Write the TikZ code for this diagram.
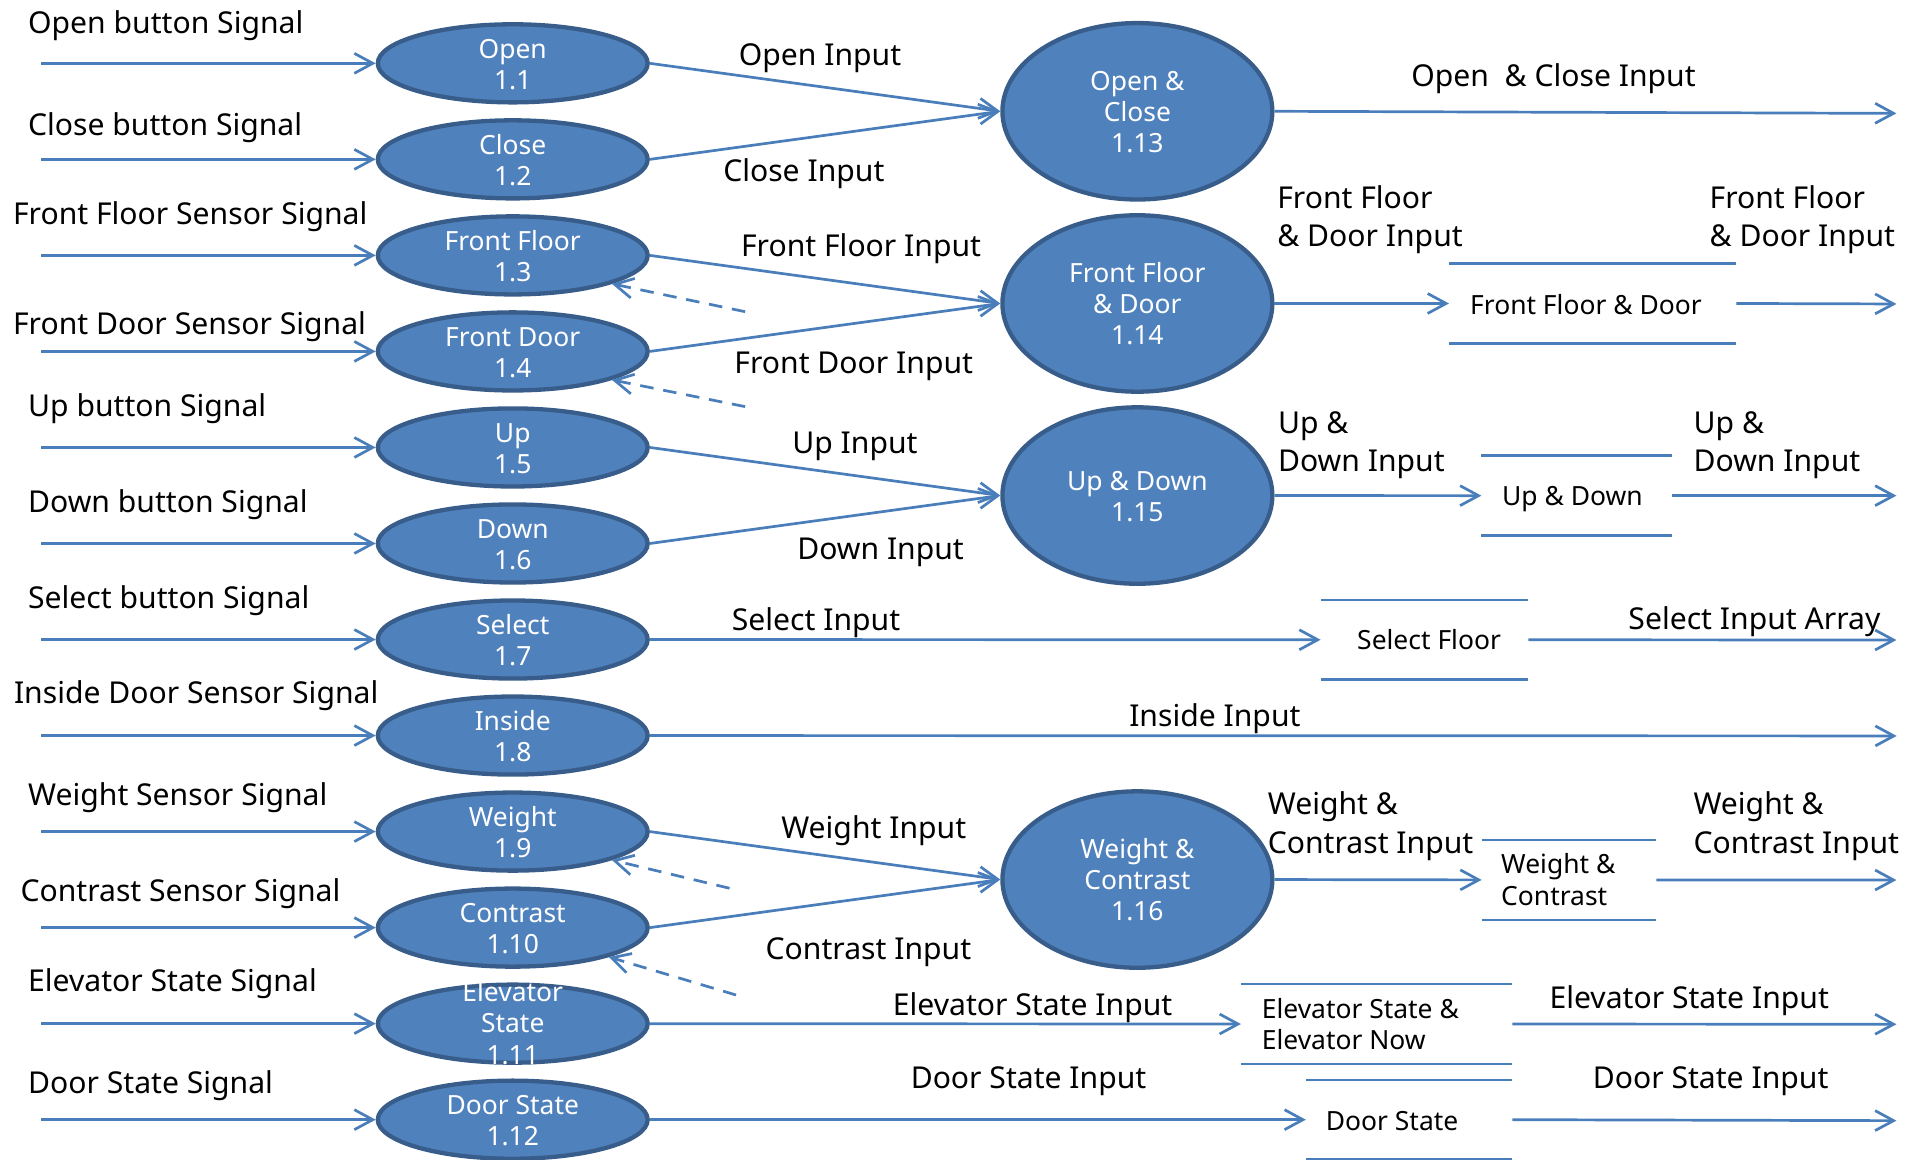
\documentclass[tikz,border=0pt]{standalone}
\usepackage{fontspec}
\setmainfont{Noto Sans}
\usetikzlibrary{arrows.meta,shapes.geometric}

\definecolor{procfill}{HTML}{4F81BD}
\definecolor{procedge}{HTML}{385D8A}
\definecolor{flowc}{HTML}{4A7EBB}

\newcommand\bigfont{\fontsize{12.25pt}{15.5pt}\selectfont}
\newcommand\smallfont{\fontsize{10.75pt}{12.75pt}\selectfont}
\newcommand\leftlines[1]{\begin{tabular}[t]{@{}l@{}}#1\end{tabular}}
\newcommand\midlines[1]{\begin{tabular}[t]{@{}c@{}}#1\end{tabular}}

\tikzset{
  proc/.style={ellipse, draw=procedge, fill=procfill, line width=1.75pt,
    minimum width=109.75pt, minimum height=31.75pt, inner sep=0pt},
  bigproc/.style={proc, minimum height=71.75pt},
  ptext/.style={text=white, font=\smallfont, anchor=base, inner sep=0pt},
  lab/.style={font=\bigfont, anchor=base west, inner sep=0pt},
  stext/.style={font=\smallfont, anchor=base west, inner sep=0pt},
  flow/.style={draw=flowc, line width=1.1pt,
    -{Straight Barb[length=7.5pt,width=8.1pt]}},
  back/.style={flow, dash pattern=on 5.5pt off 4pt},
  store/.style={rectangle, inner sep=0pt, outer sep=0pt},
  storeline/.style={draw=flowc, line width=1.1pt},
}

\begin{document}
\begin{tikzpicture}[x=0.5pt, y=-0.5pt]
\useasboundingbox (0,0) rectangle (1568,943);

% ---- input processes ----
\foreach \i/\r in {1/51.5,2/129.6,3/207.7,4/285.8,5/363.9,6/442,7/520.1,8/598.2,9/676.3,10/754.4,11/832.5,12/910.6}{
  \node[proc] (p\i) at (417,\r) {};
  \coordinate (s\i) at (33.4,\r);
  \draw[flow] (s\i) -- (p\i.west);
}

% ---- combining processes ----
\node[bigproc] (p13) at (925,90.5) {};
\node[bigproc] (p14) at (925,246.8) {};
\node[bigproc] (p15) at (925,403) {};
\node[bigproc] (p16) at (925,715.3) {};

% ---- stores ----
\node[store, minimum width=116.9pt, minimum height=32.4pt] (d14) at (1295.3,246.8) {};
\node[store, minimum width=77.65pt, minimum height=32.5pt] (d15) at (1282.4,403.1) {};
\node[store, minimum width=84.5pt, minimum height=32.25pt] (dS) at (1158.5,520.3) {};
\node[store, minimum width=71.05pt, minimum height=32.55pt] (d16) at (1276,715.6) {};
\node[store, minimum width=110.4pt, minimum height=32.5pt] (dE) at (1119.6,832.8) {};
\node[store, minimum width=84pt, minimum height=32.3pt] (dD) at (1146,910.6) {};
\foreach \d in {d14,d15,dS,d16,dE,dD}{
  \draw[storeline] (\d.north west) -- (\d.north east) (\d.south west) -- (\d.south east);
}

% ---- output ends ----
\coordinate (o13) at (1542.3,92.2);
\coordinate (o14) at (1542.3,247.2);
\coordinate (o15) at (1542.3,403.1);
\coordinate (oS) at (1542.3,520.5);
\coordinate (o8) at (1542.5,598.5);
\coordinate (o16) at (1542.3,715.7);
\coordinate (oE) at (1542.3,833);
\coordinate (oD) at (1542.3,911.4);

% ---- flows ----
\draw[flow] (p1.east) -- (p13.west);
\draw[flow] (p2.east) -- (p13.west);
\draw[flow] (p3.east) -- (p14.west);
\draw[flow] (p4.east) -- (p14.west);
\draw[flow] (p5.east) -- (p15.west);
\draw[flow] (p6.east) -- (p15.west);
\draw[flow] (p9.east) -- (p16.west);
\draw[flow] (p10.east) -- (p16.west);
\draw[flow] (p7.east) -- (dS.west);
\draw[flow] (p8.east) -- (o8);
\draw[flow] (p11.east) -- (dE.west);
\draw[flow] (p12.east) -- (dD.west);
\draw[flow] (p13.east) -- (o13);
\draw[flow] (p14.east) -- (d14.west);
\draw[flow] (p15.east) -- (d15.west);
\draw[flow] (p16.east) -- (d16.west);
\draw[flow] (d14.east) -- (o14);
\draw[flow] (d15.east) -- (o15);
\draw[flow] (dS.east) -- (oS);
\draw[flow] (d16.east) -- (o16);
\draw[flow] (dE.east) -- (oE);
\draw[flow] (dD.east) -- (oD);

% ---- dashed feedback ----
\coordinate (f3) at (606,253.5);
\coordinate (f4) at (606,330.7);
\coordinate (f9) at (593.3,722.4);
\coordinate (f10) at (598.6,809.2);
\draw[back] (f3) -- (p3.-16.5);
\draw[back] (f4) -- (p4.-16.5);
\draw[back] (f9) -- (p9.-16.5);
\draw[back] (f10) -- (p10.-17);

% ---- process texts ----
\node[ptext] (t1) at (417,47.4) {\midlines{Open\\1.1}};
\node[ptext] (t2) at (417,125.5) {\midlines{Close\\1.2}};
\node[ptext] (t3) at (417,203.6) {\midlines{Front Floor\\1.3}};
\node[ptext] (t4) at (417,281.7) {\midlines{Front Door\\1.4}};
\node[ptext] (t5) at (417,359.8) {\midlines{Up\\1.5}};
\node[ptext] (t6) at (417,437.9) {\midlines{Down\\1.6}};
\node[ptext] (t7) at (417,516) {\midlines{Select\\1.7}};
\node[ptext] (t8) at (417,594.1) {\midlines{Inside\\1.8}};
\node[ptext] (t9) at (417,672.2) {\midlines{Weight\\1.9}};
\node[ptext] (t10) at (417,750.3) {\midlines{Contrast\\1.10}};
\node[ptext] (t11) at (417,814.4) {\midlines{Elevator\\State\\1.11}};
\node[ptext] (t12) at (417,906.5) {\midlines{Door State\\1.12}};
\node[ptext] (t13) at (925,73.2) {\midlines{Open \&\\Close\\1.13}};
\node[ptext] (t14) at (925,229.5) {\midlines{Front Floor\\\& Door\\1.14}};
\node[ptext] (t15) at (925,398.5) {\midlines{Up \& Down\\1.15}};
\node[ptext] (t16) at (925,698) {\midlines{Weight \&\\Contrast\\1.16}};

% ---- store texts ----
\node[stext] (u14) at (1195.2,255.4) {Front Floor \& Door};
\node[stext] (u15) at (1221.2,411.5) {Up \& Down};
\node[stext] (uS) at (1103.4,528.1) {Select Floor};
\node[stext, font=\fontsize{10.75pt}{13.25pt}\selectfont] (u16) at (1220.5,710.3) {\leftlines{Weight \&\\Contrast}};
\node[stext] (uE) at (1025.8,828.2) {\leftlines{Elevator State \&\\Elevator Now}};
\node[stext] (uD) at (1077.9,919) {Door State};

% ---- signal labels ----
\node[lab] (l1) at (22.5,27.1) {Open button Signal};
\node[lab] (l2) at (22.5,109.8) {Close button Signal};
\node[lab] (l3) at (10.2,182.2) {Front Floor Sensor Signal};
\node[lab] (l4) at (10.2,272.4) {Front Door Sensor Signal};
\node[lab] (l5) at (22.5,338.5) {Up button Signal};
\node[lab] (l6) at (22.5,416.5) {Down button Signal};
\node[lab] (l7) at (22.5,494.5) {Select button Signal};
\node[lab] (l8) at (11,572.5) {Inside Door Sensor Signal};
\node[lab] (l9) at (22.5,654.7) {Weight Sensor Signal};
\node[lab] (l10) at (16.3,733.3) {Contrast Sensor Signal};
\node[lab] (l11) at (22.5,806.5) {Elevator State Signal};
\node[lab] (l12) at (22.5,889.2) {Door State Signal};

% ---- flow labels ----
\node[lab] (m1) at (600.5,52.9) {Open Input};
\node[lab] (m2) at (587.8,147.8) {Close Input};
\node[lab] (m3) at (602.3,208.7) {Front Floor Input};
\node[lab] (m4) at (596.9,303.6) {Front Door Input};
\node[lab] (m5) at (644,369) {Up Input};
\node[lab] (m6) at (648,455) {Down Input};
\node[lab] (m7) at (594.8,512.4) {Select Input};
\node[lab] (m8) at (918,591) {Inside Input};
\node[lab] (m9) at (635,681.8) {Weight Input};
\node[lab] (m10) at (622.3,780.7) {Contrast Input};
\node[lab] (m11) at (725.8,825.5) {Elevator State Input};
\node[lab] (m12) at (740.3,885.1) {Door State Input};

\node[lab] (n13) at (1147.4,70.5) {Open\ \ \& Close Input};
\node[lab] (n14a) at (1038.4,169.4) {\leftlines{Front Floor\\\& Door Input}};
\node[lab] (n14b) at (1390,169.4) {\leftlines{Front Floor\\\& Door Input}};
\node[lab] (n15a) at (1039,352.4) {\leftlines{Up \&\\Down Input}};
\node[lab] (n15b) at (1377,352.4) {\leftlines{Up \&\\Down Input}};
\node[lab] (nS) at (1324,512) {Select Input Array};
\node[lab] (n16a) at (1030.7,662.8) {\leftlines{Weight \&\\Contrast Input}};
\node[lab] (n16b) at (1376.9,662.8) {\leftlines{Weight \&\\Contrast Input}};
\node[lab] (nE) at (1259.8,820) {Elevator State Input};
\node[lab] (nD) at (1295,885.1) {Door State Input};
\end{tikzpicture}
\end{document}
